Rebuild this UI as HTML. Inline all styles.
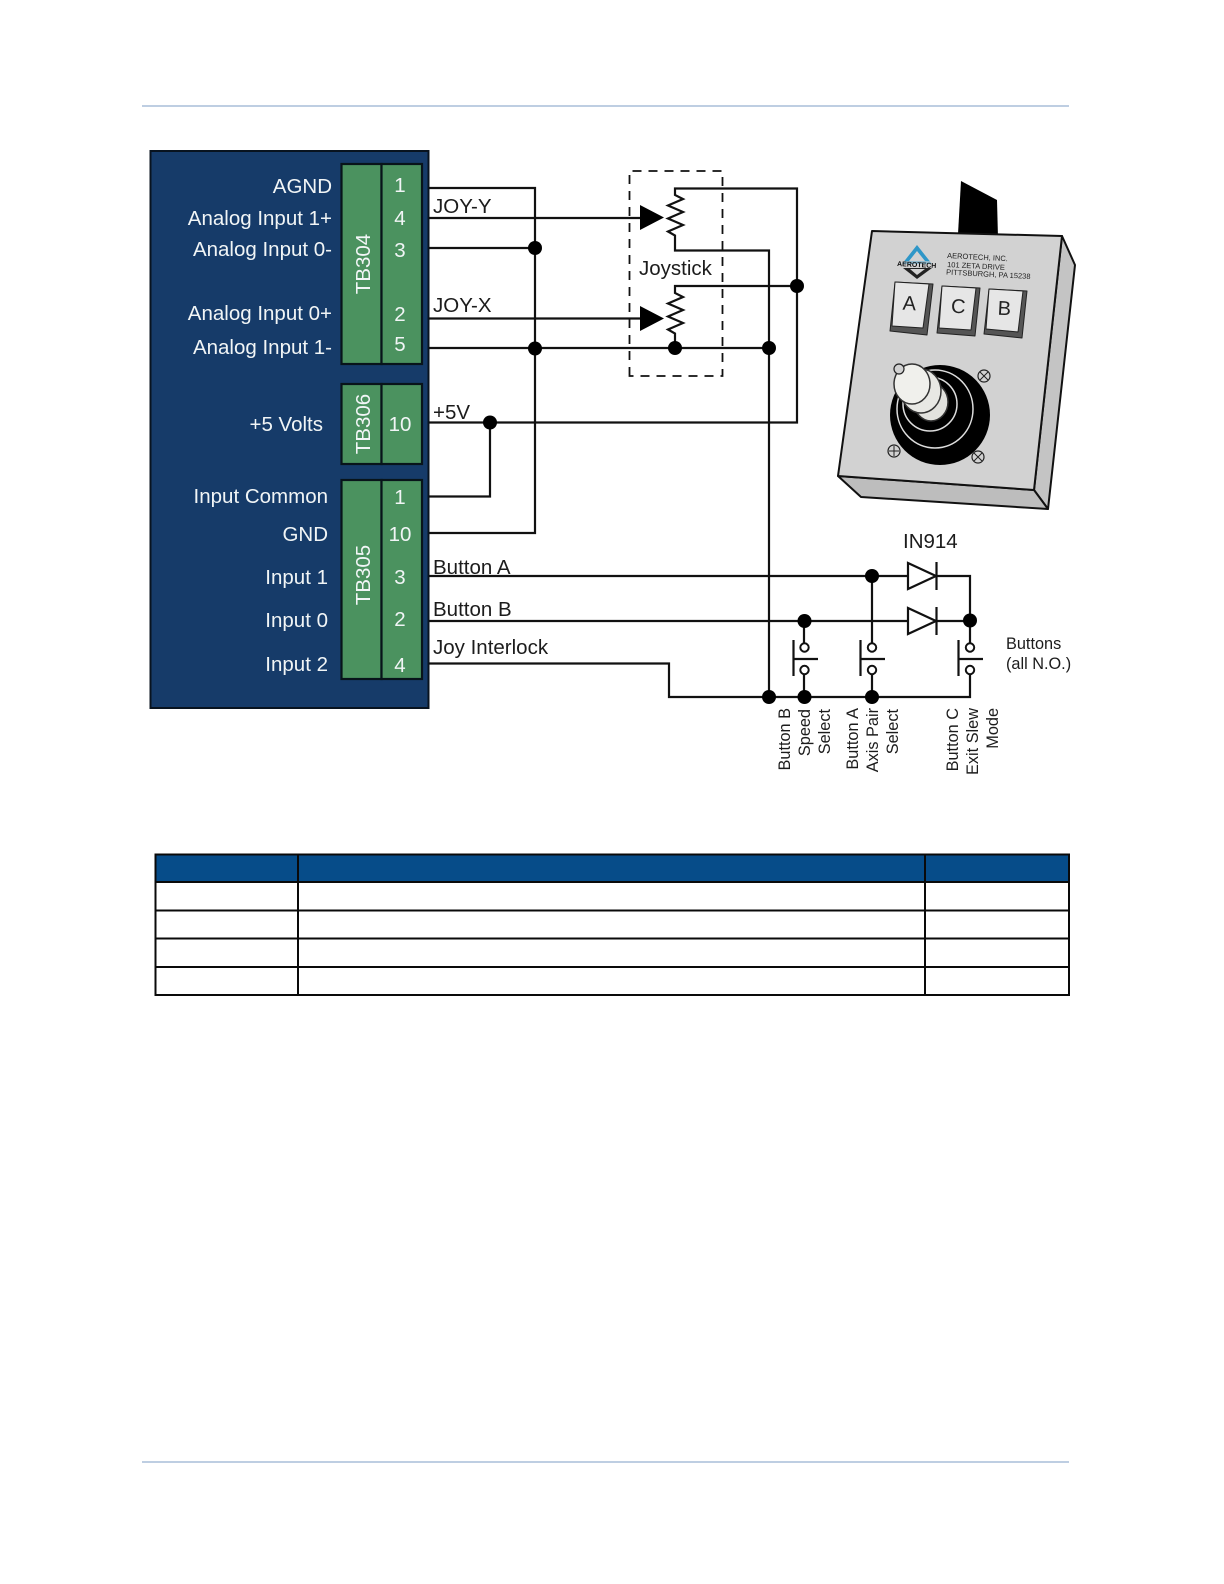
<!DOCTYPE html>
<html><head><meta charset="utf-8"><style>html,body{margin:0;padding:0;background:#fff}svg{display:block}text{font-family:"Liberation Sans",sans-serif}</style></head>
<body>
<svg width="1224" height="1584" viewBox="0 0 1224 1584" xmlns="http://www.w3.org/2000/svg">
<rect width="1224" height="1584" fill="#fff"/>
<path d="M142 106H1069M142 1462H1069" stroke="#a9bdd8" stroke-width="1.5"/>
<!-- blue box -->
<rect x="150.500" y="151" width="278" height="557" fill="#163b69" stroke="#08131f" stroke-width="2"/>
<g fill="#4b925f" stroke="#08141a" stroke-width="2.200">
<rect x="341.500" y="164" width="40" height="200"/><rect x="381.500" y="164" width="40.500" height="200"/>
<rect x="341.500" y="384" width="40" height="80"/><rect x="381.500" y="384" width="40.500" height="80"/>
<rect x="341.500" y="480" width="40" height="199"/><rect x="381.500" y="480" width="40.500" height="199"/>
</g>
<g fill="#f1f5f6" font-size="20.500" text-anchor="end">
<text x="332" y="193">AGND</text><text x="332" y="225">Analog Input 1+</text><text x="332" y="256">Analog Input 0-</text>
<text x="332" y="320">Analog Input 0+</text><text x="332" y="354">Analog Input 1-</text>
<text x="323" y="431">+5 Volts</text>
<text x="328" y="503">Input Common</text><text x="328" y="541">GND</text><text x="328" y="584">Input 1</text><text x="328" y="627">Input 0</text><text x="328" y="671">Input 2</text>
</g>
<g fill="#f1f5f6" font-size="20.500" text-anchor="middle">
<text x="400" y="192">1</text><text x="400" y="225">4</text><text x="400" y="257">3</text><text x="400" y="321">2</text><text x="400" y="351">5</text>
<text x="400" y="431">10</text>
<text x="400" y="504">1</text><text x="400" y="541">10</text><text x="400" y="584">3</text><text x="400" y="626">2</text><text x="400" y="672">4</text>
<text transform="translate(370,264) rotate(-90)">TB304</text>
<text transform="translate(370,424) rotate(-90)">TB306</text>
<text transform="translate(370,575) rotate(-90)">TB305</text>
</g>
<!-- wires -->
<g fill="none" stroke="#111" stroke-width="2.200">
<path d="M429 188H535V533H429"/>
<path d="M429 218H645"/><path d="M429 248H535"/><path d="M429 318.500H645"/><path d="M429 348H769"/>
<path d="M429 422.500H797V188.500H675V195l8 4-15 6.500 15 6.500-15 6.500 15 6.500-15 6.500 7 4V250.500H769V697"/>
<path d="M797 286H675V293l8 4-15 6.500 15 6.500-15 6.500 15 6.500-15 6.500 7 4V348"/>
<path d="M490 422.500V496.500H429"/>
<path d="M429 576H908M936 576H970V620"/>
<path d="M429 621H908M936 621H970"/>
<path d="M429 663.500H669V697H970V675"/>
<path d="M872 576V643M804 621V643M970 621V643M804 674V697M872 674V697"/>
<path d="M908 563l28 13-28 13zM908 608l28 13-28 13z"/>
<path d="M936.500 562V590M936.500 607V635"/>
<path d="M793.500 640V676M793.500 659H818M860.500 640V676M860.500 659H885M958.500 640V676M958.500 659H983"/>
</g>
<g fill="#fff" stroke="#111" stroke-width="2">
<circle cx="804.500" cy="647.500" r="4.200"/><circle cx="804.500" cy="670" r="4.200"/>
<circle cx="872" cy="647.500" r="4.200"/><circle cx="872" cy="670" r="4.200"/>
<circle cx="970" cy="647.500" r="4.200"/><circle cx="970" cy="670" r="4.200"/>
</g>
<path d="M629.500 376V171H722.500V376Z" fill="none" stroke="#111" stroke-width="1.800" stroke-dasharray="9 7"/>
<path d="M640 205l24 12.500-24 12.500zM640 306l24 12.500-24 12.500z" fill="#000"/>
<g fill="#000">
<circle cx="535" cy="248" r="7"/><circle cx="535" cy="348.500" r="7"/><circle cx="675" cy="348" r="7"/><circle cx="769" cy="348" r="7"/>
<circle cx="797" cy="286" r="7"/><circle cx="490" cy="422.500" r="7"/>
<circle cx="872" cy="576" r="7"/><circle cx="804.500" cy="621" r="7"/><circle cx="970" cy="620.500" r="7"/>
<circle cx="769" cy="697" r="7"/><circle cx="804.500" cy="697" r="7"/><circle cx="872" cy="697" r="7"/>
</g>
<g fill="#1c1c1c" font-size="20.500">
<text x="433" y="213">JOY-Y</text><text x="433" y="312">JOY-X</text><text x="433" y="419">+5V</text>
<text x="433" y="574">Button A</text><text x="433" y="616">Button B</text><text x="433" y="654">Joy Interlock</text>
<text x="639" y="275">Joystick</text><text x="903" y="548">IN914</text>
</g>
<g fill="#1c1c1c" font-size="16.300">
<text x="1006" y="649">Buttons</text><text x="1006" y="669">(all N.O.)</text>
<g text-anchor="end">
<text transform="translate(790,708) rotate(-90)">Button B</text>
<text transform="translate(810,709) rotate(-90)">Speed</text>
<text transform="translate(830,709) rotate(-90)">Select</text>
<text transform="translate(858,708) rotate(-90)">Button A</text>
<text transform="translate(878,708) rotate(-90)">Axis Pair</text>
<text transform="translate(898,709) rotate(-90)">Select</text>
<text transform="translate(958,708) rotate(-90)">Button C</text>
<text transform="translate(978,708) rotate(-90)">Exit Slew</text>
<text transform="translate(998,708) rotate(-90)">Mode</text>
</g></g>
<!-- panel -->
<path d="M961 181L997 200L998 238L958 234Z" fill="#000"/>
<path d="M1062 236L1075 265L1048 509L1034 490Z" fill="#c4c4c4" stroke="#111" stroke-width="2" stroke-linejoin="round"/>
<path d="M838 476L1034 490L1048 509L861 497Z" fill="#bdbdbd" stroke="#111" stroke-width="2" stroke-linejoin="round"/>
<path d="M872 231L1062 236L1034 490L838 476Z" fill="#d2d2d2" stroke="#111" stroke-width="2" stroke-linejoin="round"/>
<!-- logo -->
<path d="M917 245L932 264H902Z" fill="#2f97c8"/><path d="M917 251L925 261H909Z" fill="#d2d2d2"/>
<path d="M903 268H932L917 279Z" fill="#222"/><path d="M910 269H925L917 275Z" fill="#d2d2d2"/>
<rect x="896" y="261" width="42" height="6" fill="#d2d2d2" opacity=".6"/>
<text transform="translate(897,266) rotate(3)" font-size="7" font-weight="bold" fill="#111">AEROTECH</text>
<g font-size="7.500" fill="#222">
<text transform="translate(947,258) rotate(3)">AEROTECH, INC.</text>
<text transform="translate(947,267) rotate(3)">101 ZETA DRIVE</text>
<text transform="translate(946,274.500) rotate(3)">PITTSBURGH, PA 15238</text>
</g>
<!-- buttons -->
<g stroke="#222" stroke-width="1" stroke-linejoin="round">
<path d="M895 282L933 284L927 335L890 331Z" fill="#555"/>
<path d="M895 282L929 284L923 328L892 326Z" fill="#e6e6e6"/>
<path d="M942 286L980 288L975 336L937 333Z" fill="#555"/>
<path d="M942 286L976 288L971 330L939 328Z" fill="#e6e6e6"/>
<path d="M989 289L1027 291L1022 338L984 334Z" fill="#555"/>
<path d="M989 289L1023 291L1018 332L986 329Z" fill="#e6e6e6"/>
</g>
<g font-size="20" fill="#222" text-anchor="middle">
<text transform="translate(909,310) rotate(3)">A</text>
<text transform="translate(958,313) rotate(3)">C</text>
<text transform="translate(1004,315) rotate(3)">B</text>
</g>
<!-- joystick -->
<ellipse cx="940" cy="415" rx="50" ry="50" fill="#000"/>
<g fill="none" stroke="#ddd" stroke-width="1.500">
<ellipse cx="935" cy="409" rx="38" ry="39"/><ellipse cx="930" cy="404" rx="27" ry="27"/>
</g>
<ellipse cx="931" cy="402" rx="17" ry="19" fill="#e2e2de" stroke="#333" stroke-width="1.500"/>
<ellipse cx="921" cy="391" rx="20" ry="22" fill="#e8e8e4" stroke="#333" stroke-width="1.500"/>
<ellipse cx="912" cy="384" rx="18" ry="20" fill="#f0f0ec" stroke="#333" stroke-width="1.500"/>
<g fill="#d2d2d2" stroke="#222" stroke-width="1.200">
<circle cx="984" cy="376" r="6"/><circle cx="978" cy="457" r="6"/><circle cx="894" cy="451" r="6"/><circle cx="899" cy="369" r="5"/>
</g>
<path d="M980 372l8 8M988 372l-8 8M974 453l8 8M982 453l-8 8M894 446v10M889 451h10" stroke="#222" stroke-width="1"/>
<!-- table -->
<rect x="155" y="854" width="914" height="28" fill="#064c89"/>
<g fill="none" stroke="#0a0a0a" stroke-width="2">
<rect x="155.500" y="854.500" width="913.500" height="140.500"/>
<path d="M298 854V995M925 854V995M155 882H1069M155 910.500H1069M155 938.500H1069M155 967H1069"/>
</g>
</svg>
</body></html>
